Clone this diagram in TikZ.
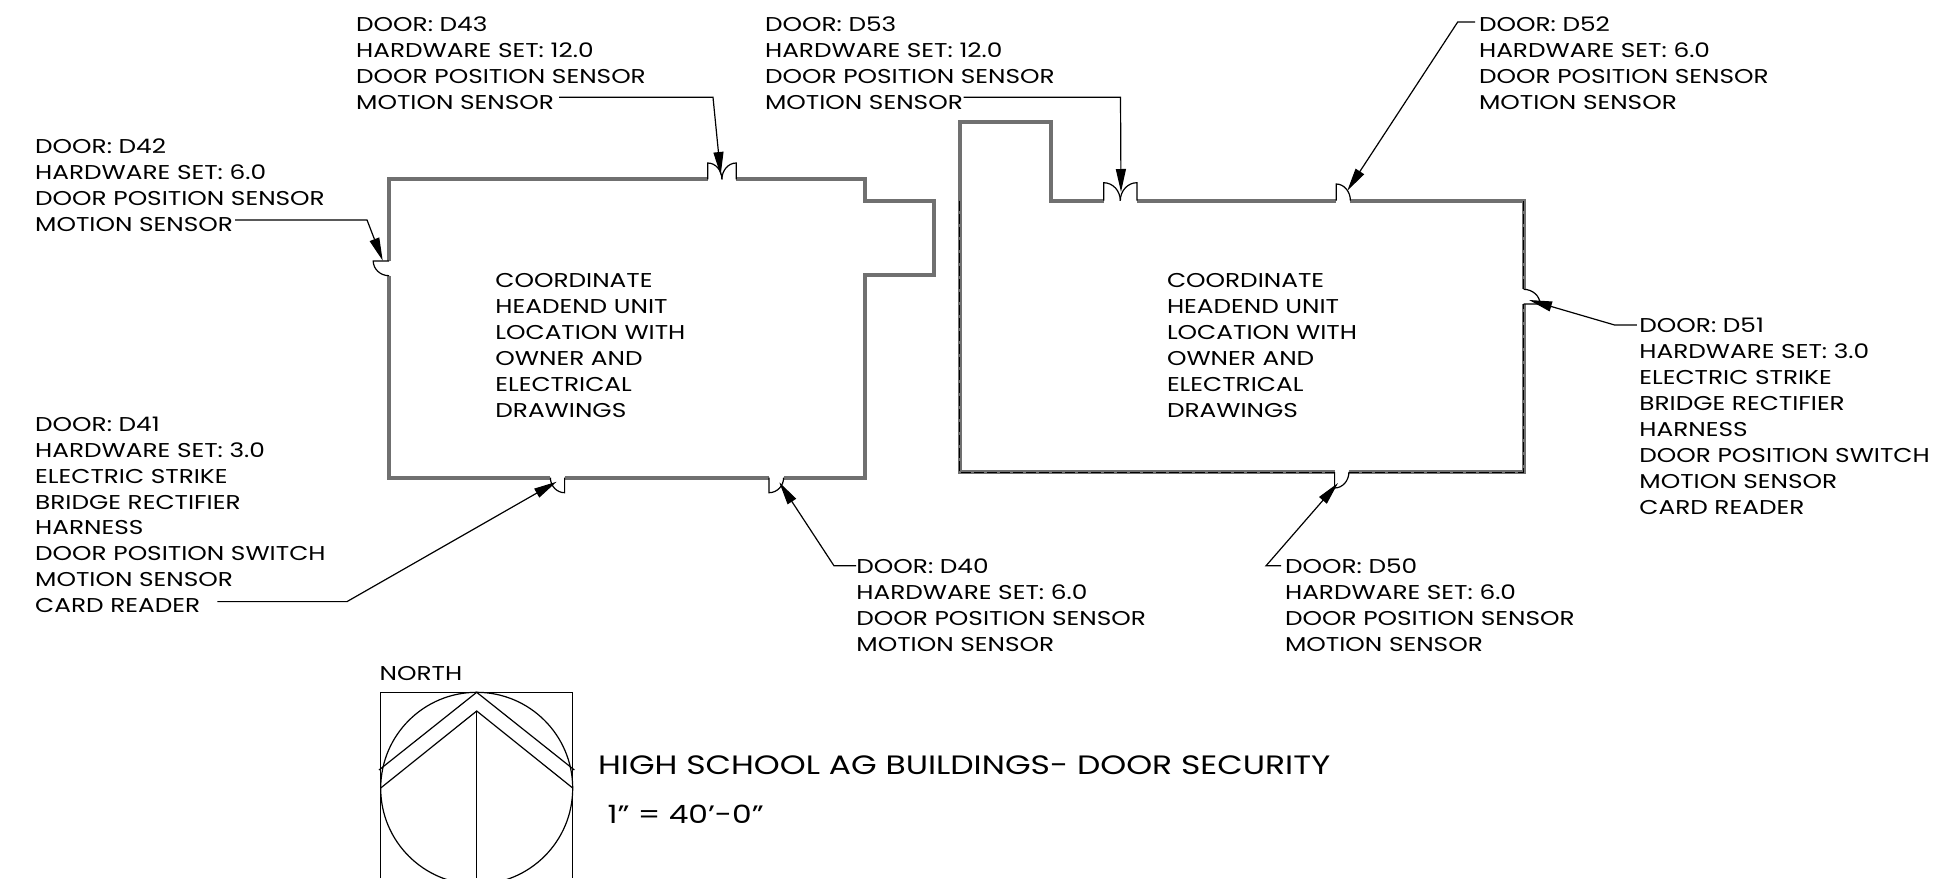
\documentclass[tikz,border=0pt]{standalone}
\usepackage{fontspec}
\setmainfont[FakeStretch=1.24]{Poppins}
\usepackage{xcolor}
\usetikzlibrary{arrows.meta}
\definecolor{wall}{HTML}{707070}
\tikzset{
  wallline/.style={draw=wall, line width=1.9pt, line join=miter},
  dashline/.style={draw=black, line width=0.5pt, dash pattern=on 5pt off 1.5pt},
  doorline/.style={draw=black, line width=0.6pt},
  leader/.style={draw=black, line width=0.6pt, -{Triangle[length=11.5pt, width=5pt]}},
  compass/.style={draw=black, line width=0.6pt},
  lab/.style={anchor=north west, inner sep=0pt, align=left, font=\fontsize{10}{12.95}\selectfont},
  titlelab/.style={anchor=west, inner sep=0pt, font=\fontsize{13.3}{16}\selectfont},
  scalelab/.style={anchor=west, inner sep=0pt, font=\fontsize{12.6}{16}\selectfont},
}
\begin{document}
\begin{tikzpicture}[x=0.5pt,y=-0.5pt]
\clip (0,0) rectangle (1937,878);

\draw[wallline] (707.7,179.3) -- (389,179.3) -- (389,261);
\draw[wallline] (736.2,179.3) -- (865,179.3) -- (865,200.7) -- (934,200.7) -- (934,275) -- (865,275) -- (865,477.7) -- (783.6,477.7);
\draw[wallline] (769,477.7) -- (564.6,477.7);
\draw[wallline] (550.4,477.7) -- (389,477.7) -- (389,275.7);

\draw[wallline] (1103.7,200.7) -- (1050.7,200.7) -- (1050.7,121.7) -- (959.8,121.7) -- (959.8,472) -- (1334.6,472);
\draw[wallline] (1136.9,200.7) -- (1336.2,200.7);
\draw[wallline] (1350.4,200.7) -- (1523.6,200.7) -- (1523.6,289.3);
\draw[wallline] (1523.6,304) -- (1523.6,472) -- (1348.9,472);
\draw[dashline] (959.8,200.7) -- (959.8,472.7) -- (1334.6,472.7);
\draw[dashline] (1348.9,472.7) -- (1523.6,472.7) -- (1523.6,304);
\draw[dashline] (1523.6,289.3) -- (1523.6,200.7);

\draw[doorline] (707.7,179.3) -- (707.7,163) .. controls (715.5,163) and (721.9,170.2) .. (721.9,179.3);
\draw[doorline] (736.2,179.3) -- (736.2,163) .. controls (728.4,163) and (721.9,170.2) .. (721.9,179.3);
\draw[doorline] (389,261) -- (373.2,261) .. controls (373.2,269) and (380.3,275.7) .. (389,275.7);
\draw[doorline] (564.6,477.7) -- (564.6,492.7) .. controls (556.8,492.7) and (550.4,486) .. (550.4,477.7);
\draw[doorline] (769,477.7) -- (769,492.7) .. controls (777,492.7) and (783.6,486) .. (783.6,477.7);
\draw[doorline] (1103.7,200.7) -- (1103.7,182.7) .. controls (1112.8,182.7) and (1120.3,190.8) .. (1120.3,200.7);
\draw[doorline] (1136.9,200.7) -- (1136.9,182.7) .. controls (1127.8,182.7) and (1120.3,190.8) .. (1120.3,200.7);
\draw[doorline] (1336.2,200.7) -- (1336.2,184) .. controls (1344,184) and (1350.4,191.5) .. (1350.4,200.7);
\draw[doorline] (1523.6,304) -- (1540,304) .. controls (1540,296) and (1532.6,289.3) .. (1523.6,289.3);
\draw[doorline] (1334.6,472) -- (1334.6,488) .. controls (1342.5,488) and (1348.9,480.8) .. (1348.9,472);

\node[lab] (d43) at (355.8,16.5) {DOOR: D43\\HARDWARE SET: 12.0\\DOOR POSITION SENSOR\\MOTION SENSOR};
\node[lab] (d53) at (764.7,16.5) {DOOR: D53\\HARDWARE SET: 12.0\\DOOR POSITION SENSOR\\MOTION SENSOR};
\node[lab] (d52) at (1478.7,16.5) {DOOR: D52\\HARDWARE SET: 6.0\\DOOR POSITION SENSOR\\MOTION SENSOR};
\node[lab] (d42) at (34.8,138.7) {DOOR: D42\\HARDWARE SET: 6.0\\DOOR POSITION SENSOR\\MOTION SENSOR};
\node[lab] (d41) at (34.8,416.5) {DOOR: D41\\HARDWARE SET: 3.0\\ELECTRIC STRIKE\\BRIDGE RECTIFIER\\HARNESS\\DOOR POSITION SWITCH\\MOTION SENSOR\\CARD READER};
\node[lab] (d40) at (856,558.5) {DOOR: D40\\HARDWARE SET: 6.0\\DOOR POSITION SENSOR\\MOTION SENSOR};
\node[lab] (d50) at (1284.7,558.5) {DOOR: D50\\HARDWARE SET: 6.0\\DOOR POSITION SENSOR\\MOTION SENSOR};
\node[lab] (d51) at (1639,318) {DOOR: D51\\HARDWARE SET: 3.0\\ELECTRIC STRIKE\\BRIDGE RECTIFIER\\HARNESS\\DOOR POSITION SWITCH\\MOTION SENSOR\\CARD READER};
\node[lab] (notea) at (495,273) {COORDINATE\\HEADEND UNIT\\LOCATION WITH\\OWNER AND\\ELECTRICAL\\DRAWINGS};
\node[lab] (noteb) at (1166.6,273) {COORDINATE\\HEADEND UNIT\\LOCATION WITH\\OWNER AND\\ELECTRICAL\\DRAWINGS};
\node[lab] (north) at (379.3,665.5) {NORTH};
\node[titlelab] (title) at (597.7,765) {HIGH SCHOOL AG BUILDINGS- DOOR SECURITY};
\node[scalelab] (scale) at (607.3,814) {1" = 40{\char39}-0"};

\coordinate (d43tail) at (559,97.3);
\coordinate (d43bend) at (713,97.3);
\coordinate (d43tip) at (720.7,175);
\coordinate (d42tail) at (235,219.9);
\coordinate (d42bend) at (367,219.9);
\coordinate (d42tip) at (382.7,260.7);
\coordinate (d53tail) at (963.5,97.3);
\coordinate (d53bend) at (1120.5,97.3);
\coordinate (d53tip) at (1121,192);
\coordinate (d52tail) at (1475,22);
\coordinate (d52bend) at (1457.7,22);
\coordinate (d52tip) at (1347.3,190.7);
\coordinate (d51tail) at (1636.8,325);
\coordinate (d51bend) at (1614.6,325);
\coordinate (d51tip) at (1529,300);
\coordinate (d50tail) at (1281,565.8);
\coordinate (d50bend) at (1266,565.8);
\coordinate (d50tip) at (1338,483);
\coordinate (d41tail) at (217.4,601.6);
\coordinate (d41bend) at (347,601.6);
\coordinate (d41tip) at (556.7,481.7);
\coordinate (d40tail) at (856,565.8);
\coordinate (d40bend) at (834,565.8);
\coordinate (d40tip) at (779.3,482.3);

\draw[leader] (d43tail) -- (d43bend) -- (d43tip);
\draw[leader] (d42tail) -- (d42bend) -- (d42tip);
\draw[leader] (d53tail) -- (d53bend) -- (d53tip);
\draw[leader] (d52tail) -- (d52bend) -- (d52tip);
\draw[leader] (d51tail) -- (d51bend) -- (d51tip);
\draw[leader] (d50tail) -- (d50bend) -- (d50tip);
\draw[leader] (d41tail) -- (d41bend) -- (d41tip);
\draw[leader] (d40tail) -- (d40bend) -- (d40tip);

\draw[compass] (380.7,878) -- (380.7,692.3) -- (572.7,692.3) -- (572.7,878);
\draw[compass] (476.7,788.3) circle (96);
\draw[compass] (379,770) -- (476.7,692.3) -- (574.4,770);
\draw[compass] (380.7,788) -- (476.7,711) -- (572.7,788);
\draw[compass] (476.7,711) -- (476.7,878);
\end{tikzpicture}
\end{document}
